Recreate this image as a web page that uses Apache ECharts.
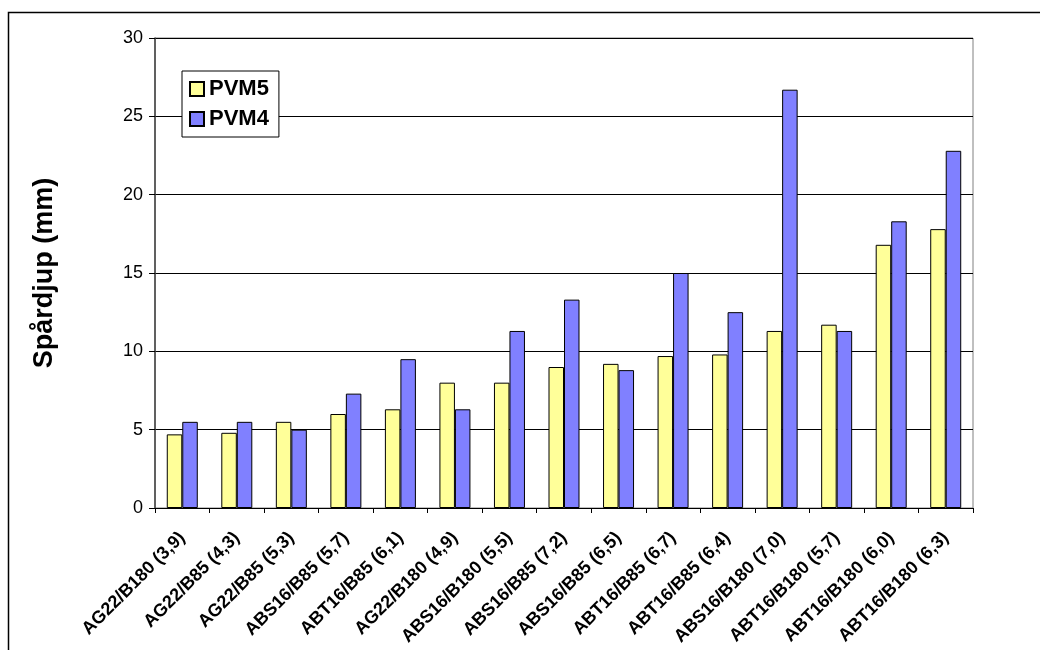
<!DOCTYPE html>
<html>
<head>
<meta charset="utf-8">
<script src="https://cdn.jsdelivr.net/npm/echarts@6/dist/echarts.min.js"></script>
<style>html,body{margin:0;padding:0;background:#fff;}#c{width:1040px;height:650px;}</style>
</head>
<body>
<div id="c"></div>
<script>
const categories = ["AG22/B180 (3,9)","AG22/B85 (4,3)","AG22/B85 (5,3)","ABS16/B85 (5,7)","ABT16/B85 (6,1)","AG22/B180 (4,9)","ABS16/B180 (5,5)","ABS16/B85 (7,2)","ABS16/B85 (6,5)","ABT16/B85 (6,7)","ABT16/B85 (6,4)","ABS16/B180 (7,0)","ABT16/B180 (5,7)","ABT16/B180 (6,0)","ABT16/B180 (6,3)"];
const pvm5 = [4.7,4.8,5.5,6.0,6.3,8.0,8.0,9.0,9.2,9.7,9.8,11.3,11.7,16.8,17.8];
const pvm4 = [5.5,5.5,5.0,7.3,9.5,6.3,11.3,13.3,8.8,15.0,12.5,26.7,11.3,18.3,22.8];
const yTicks = [0,5,10,15,20,25,30];

const chart = echarts.init(document.getElementById('c'), null, {renderer:'canvas'});
const font = 'Arial, "Liberation Sans", sans-serif';
chart.setOption({
  animation:false,
  backgroundColor:'#fff',
  graphic:[{type:'rect',shape:{x:8.5,y:12.5,width:1100,height:700},style:{fill:'none',stroke:'#000',lineWidth:1.5},z:-1}],
  grid:{left:155,right:67,top:38,bottom:142,containLabel:false,outerBoundsMode:'none',show:true,borderColor:'#808080',borderWidth:1,backgroundColor:'#fff'},
  legend:{
    orient:'vertical',left:182,top:71,icon:'rect',
    backgroundColor:'#fff',borderColor:'#000',borderWidth:1,
    padding:[7,10,7,7],itemGap:8,itemWidth:14,itemHeight:14,
    textStyle:{fontFamily:font,fontWeight:'bold',fontSize:22,color:'#000'},
    data:['PVM5','PVM4']
  },
  xAxis:{
    type:'category',data:categories,
    axisLine:{lineStyle:{color:'#000',width:1}},
    axisTick:{show:true,length:5,lineStyle:{color:'#000'},inside:false},
    axisLabel:{rotate:45,margin:27,interval:0,fontFamily:font,fontWeight:'bold',fontSize:18,color:'#000'}
  },
  yAxis:{
    type:'value',min:0,max:30,interval:5,
    name:'Spårdjup (mm)',nameLocation:'middle',nameGap:97,nameRotate:90,
    nameTextStyle:{fontFamily:font,fontWeight:'bold',fontSize:27,color:'#000'},
    axisLine:{show:true,lineStyle:{color:'#404040',width:1.5}},
    axisTick:{show:true,length:6,lineStyle:{color:'#000'}},
    axisLabel:{margin:12,fontFamily:font,fontSize:18,color:'#000',
      formatter:v=>yTicks.includes(v)?String(v):''},
    splitLine:{show:true,lineStyle:{color:'#000',width:1}}
  },
  series:[
    {name:'PVM5',type:'bar',data:pvm5,barWidth:15.5,barGap:'0%',
     itemStyle:{color:'#FFFF99',borderColor:'#000',borderWidth:1}},
    {name:'PVM4',type:'bar',data:pvm4,barWidth:15.5,barGap:'0%',
     itemStyle:{color:'#8080FF',borderColor:'#000',borderWidth:1}}
  ]
});
</script>
</body>
</html>
